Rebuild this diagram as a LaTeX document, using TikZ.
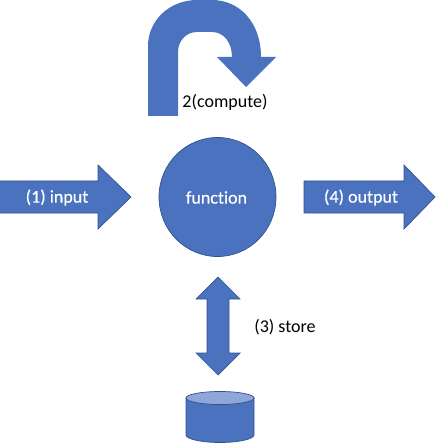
\documentclass[tikz,border=0pt]{standalone}
\usepackage{fontspec}
\setmainfont[Ligatures=CommonOff]{Carlito}
\newfontfamily\whitefont[Ligatures=CommonOff,FakeBold=0.4]{Carlito}
\definecolor{fillblue}{HTML}{4A72BE}
\definecolor{edgeblue}{HTML}{2F528F}
\definecolor{lightblue}{HTML}{8FA6D8}
\tikzset{
  shapeblue/.style={fill=fillblue,draw=edgeblue,line width=0.7pt,line join=miter},
  whitelabel/.style={text=white,font=\whitefont\fontsize{18}{21}\selectfont,inner sep=0pt,anchor=center},
  blacklabel/.style={text=black,font=\fontsize{18}{21}\selectfont,inner sep=0pt,anchor=center}
}
\begin{document}
\begin{tikzpicture}[x=1pt,y=-1pt]
\useasboundingbox (0,0) rectangle (437,443);
% U-turn arrow
\fill[fillblue] (148,116) -- (148,46)
  .. controls (148,20) and (170,0) .. (197,0)
  -- (212,0)
  .. controls (239,0) and (261,22) .. (261,57)
  -- (276,57) -- (246,87) -- (217,57) -- (232,57)
  .. controls (232,43) and (224,32) .. (212,32)
  -- (197,32)
  .. controls (186,32) and (178,41) .. (178,52)
  -- (178,116) -- cycle;
% input arrow
\draw[shapeblue] (-1,181) -- (98,181) -- (98,165) -- (131,197) -- (98,229) -- (98,213) -- (-1,213) -- cycle;
% output arrow
\draw[shapeblue] (304,181) -- (404,181) -- (404,165) -- (435,197) -- (404,229) -- (404,213) -- (304,213) -- cycle;
% function circle
\draw[shapeblue] (217.5,197) ellipse [x radius=58.5,y radius=59.5];
% store double arrow
\draw[shapeblue] (218,277) -- (240,299) -- (229,299) -- (229,353) -- (240,353) -- (218,375) -- (196,353) -- (207,353) -- (207,299) -- (196,299) -- cycle;
% cylinder
\draw[shapeblue] (186,398) -- (186,435) .. controls (186,439) and (201,442.5) .. (220,442.5) .. controls (239,442.5) and (254,439) .. (254,435) -- (254,398) -- cycle;
\draw[edgeblue,line width=0.7pt,fill=lightblue] (220,398) ellipse [x radius=34,y radius=6.5];
% labels
\node[whitelabel] (inputlabel) at (57,197.5) {(1) input};
\node[whitelabel] (functionlabel) at (216.5,197.5) {function};
\node[whitelabel] (outputlabel) at (361,197.5) {(4) output};
\node[blacklabel] (computelabel) at (225,102) {2(compute)};
\node[blacklabel] (storelabel) at (285,327) {(3) store};
\end{tikzpicture}
\end{document}
